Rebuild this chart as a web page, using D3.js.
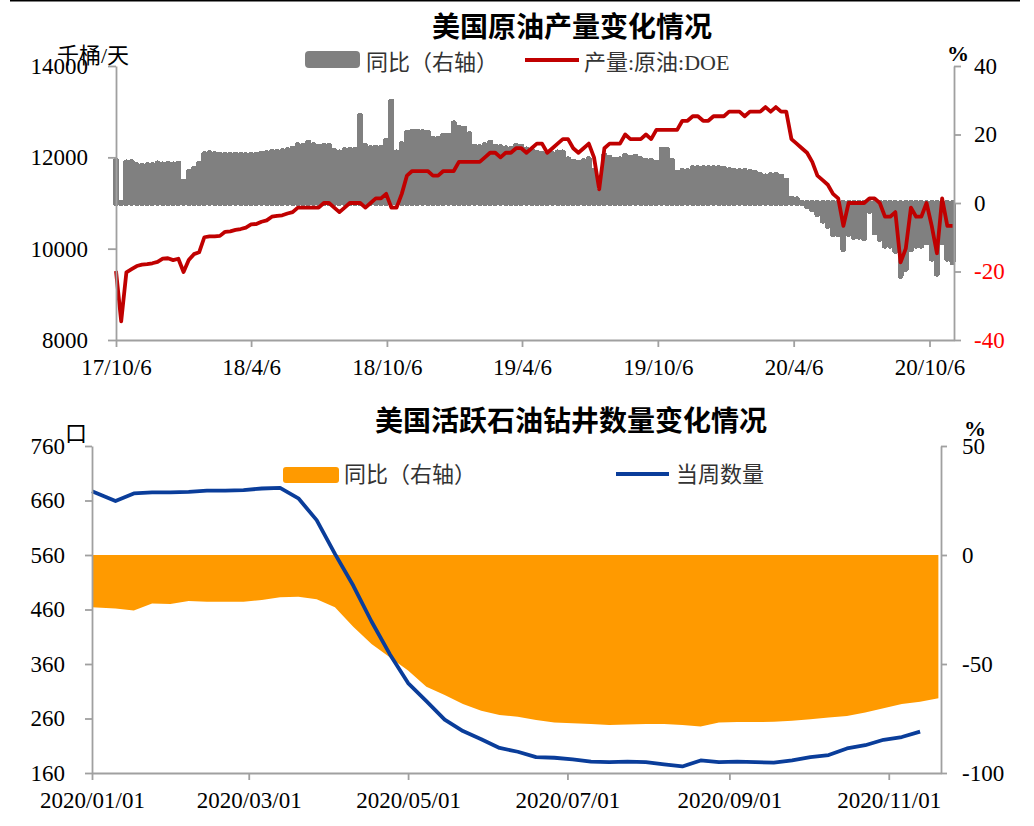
<!DOCTYPE html>
<html><head><meta charset="utf-8">
<script src="https://cdn.jsdelivr.net/npm/d3@7"></script>
<style>
body{margin:0;background:#fff}
svg text{font-family:"Liberation Serif","Noto Sans CJK SC",serif}
</style>
</head><body>
<svg id="c" width="1034" height="826"></svg>
<script>
// ---------- DATA : top chart (weekly, from 2017-10-06) ----------
const topStartDate = "2017-10-06";
const topEndDate = "2020-11-08";
const prodValues = [
 9510, 8410, 9480, 9550, 9620, 9650, 9660, 9680, 9710, 9780,
 9790, 9750, 9780, 9490, 9750, 9880, 9920, 10250, 10270, 10270,
 10280, 10370, 10380, 10410, 10430, 10460, 10530, 10540, 10590, 10620,
 10700, 10720, 10730, 10770, 10800, 10900, 10900, 10900, 10900, 10900,
 11000, 11000, 10900, 10800, 10900, 11000, 11000, 11000, 10900, 11000,
 11100, 11100, 11200, 10900, 10900, 11200, 11600, 11700, 11700, 11700,
 11700, 11600, 11600, 11700, 11700, 11700, 11900, 11900, 11900, 11900,
 11900, 12000, 12100, 12100, 12000, 12100, 12100, 12200, 12200, 12100,
 12200, 12300, 12300, 12100, 12200, 12300, 12400, 12400, 12200, 12100,
 12200, 12300, 12000, 11300, 12200, 12300, 12300, 12300, 12500, 12400,
 12400, 12400, 12500, 12400, 12600, 12600, 12600, 12600, 12600, 12800,
 12800, 12900, 12900, 12800, 12800, 12900, 12900, 12900, 13000, 13000,
 13000, 12900, 13000, 13000, 13000, 13100, 13000, 13100, 13000, 13000,
 12400, 12300, 12200, 12100, 11900, 11600, 11500, 11400, 11200, 11100,
 10500, 11000, 11000, 11000, 11000, 11100, 11100, 11000, 10700, 10700,
 10800, 9700, 10000, 10900, 10700, 10700, 11000, 10500, 9900, 11100,
 10500, 10500
];
const prodYoY = [
 13.0, -0.5, 12.6, 12.7, 11.8, 11.7, 11.8, 11.8, 12.3, 12.0,
 12.2, 12.0, 12.2, 6.9, 9.8, 10.8, 12.1, 15.0, 15.3, 15.0,
 14.9, 14.8, 14.8, 14.9, 14.8, 14.7, 14.8, 14.9, 15.1, 15.3,
 15.7, 15.7, 15.9, 16.2, 16.6, 17.6, 17.4, 18.4, 17.6, 17.2,
 17.4, 17.4, 16.0, 15.5, 16.2, 16.2, 16.2, 26.2, 17.4, 16.7,
 16.9, 16.9, 18.9, 30.3, 15.5, 17.9, 21.3, 21.6, 21.6, 21.4,
 21.3, 19.4, 19.4, 20.4, 20.4, 24.0, 22.7, 22.5, 20.8, 17.2,
 17.0, 17.6, 18.4, 17.2, 17.0, 16.7, 16.6, 17.4, 17.2, 16.4,
 16.0, 15.5, 15.0, 14.5, 15.0, 15.5, 15.5, 13.5, 12.8, 12.5,
 13.0, 13.5, 10.1, 4.0, 14.6, 14.0, 13.3, 13.5, 14.5, 14.0,
 14.3, 13.5, 13.0, 13.0, 12.5, 16.3, 16.3, 13.0, 9.6, 10.1,
 10.1, 10.9, 10.9, 10.9, 10.9, 10.9, 10.9, 10.8, 10.3, 10.1,
 10.1, 10.1, 9.8, 9.5, 8.9, 8.5, 8.9, 8.9, 8.5, 7.3,
 2.0, 1.8, 0.2, -1.6, -2.5, -4.0, -5.9, -7.4, -9.8, -9.8,
 -14.2, -9.8, -10.6, -10.6, -11.0, -3.0, -9.3, -11.2, -13.2, -13.2,
 -14.7, -22.0, -20.0, -14.2, -13.2, -13.2, -12.2, -17.0, -21.4, -12.2,
 -17.0, -18.0
];
const topXTicks = ["2017-10-06","2018-04-06","2018-10-06","2019-04-06","2019-10-06","2020-04-06","2020-10-06"];
const topXTickLabels = ["17/10/6","18/4/6","18/10/6","19/4/6","19/10/6","20/4/6","20/10/6"];
const topLeftTicks = [8000, 10000, 12000, 14000];
const topRightTicks = [-40, -20, 0, 20, 40];

// ---------- DATA : bottom chart (weekly 2020) ----------
const rigDates = ["2020-01-01","2020-01-10","2020-01-17","2020-01-24","2020-01-31","2020-02-07","2020-02-14","2020-02-21","2020-02-28",
 "2020-03-06","2020-03-13","2020-03-20","2020-03-27","2020-04-03","2020-04-10","2020-04-17","2020-04-24","2020-05-01","2020-05-08",
 "2020-05-15","2020-05-22","2020-05-29","2020-06-05","2020-06-12","2020-06-19","2020-06-26","2020-07-03","2020-07-10","2020-07-17",
 "2020-07-24","2020-07-31","2020-08-07","2020-08-14","2020-08-21","2020-08-28","2020-09-04","2020-09-11","2020-09-18","2020-09-25",
 "2020-10-02","2020-10-09","2020-10-16","2020-10-23","2020-10-30","2020-11-06","2020-11-13","2020-11-20"];
const rigCount = [677, 659, 673, 675, 675, 676, 678, 678, 679, 682,
 683, 664, 624, 562, 504, 438, 378, 325, 292, 258,
 237, 222, 206, 199, 189, 188, 185, 181, 180, 181,
 180, 176, 172, 183, 180, 181, 180, 179, 183, 189,
 193, 205, 211, 221, 226, 236];
const rigYoY = [-24.0, -24.5, -25.5, -22.2, -22.5, -21.1, -21.5, -21.5, -21.4, -20.6,
 -19.4, -19.1, -20.3, -24.0, -32.9, -40.8, -46.9, -53.0, -60.4, -64.2,
 -68.3, -71.4, -73.4, -74.2, -75.7, -76.8, -77.2, -77.5, -78.0, -77.8,
 -77.5, -77.5, -78.0, -78.7, -76.8, -76.6, -76.6, -76.5, -76.0, -75.4,
 -74.5, -73.9, -72.3, -70.3, -68.3, -67.3, -65.7];
const botXStart = "2020-01-01", botXEnd = "2020-11-21";
const botXTicks = ["2020-01-01","2020-03-01","2020-05-01","2020-07-01","2020-09-01","2020-11-01"];
const botXTickLabels = ["2020/01/01","2020/03/01","2020/05/01","2020/07/01","2020/09/01","2020/11/01"];
const botLeftTicks = [160, 260, 360, 460, 560, 660, 760];
const botRightTicks = [-100, -50, 0, 50];

// ---------- DRAW ----------
const parse = d3.timeParse("%Y-%m-%d");
const svg = d3.select("#c");
const AX = "#a0a0a0", FS = 23;
const SERIF = "Liberation Serif, Times New Roman, serif";
const CJK = "Noto Sans CJK SC, sans-serif";

svg.append("line").attr("x1",10).attr("x2",1020).attr("y1",0.8).attr("y2",0.8)
  .attr("stroke","#000").attr("stroke-width",1.6);

function styleAxis(g){
  g.attr("font-family", SERIF).attr("font-size", FS);
  g.selectAll("path.domain").attr("stroke",AX).attr("stroke-width",1.8);
  g.selectAll(".tick line").attr("stroke",AX).attr("stroke-width",1.8);
  g.selectAll(".tick text").attr("font-size",FS).attr("fill","#000")
    .attr("font-family", SERIF).style("font-family", SERIF);
}

// ===== TOP CHART =====
const t0 = parse(topStartDate);
const topDates = prodValues.map((_, i) => d3.timeDay.offset(t0, 7 * i));
const xT = d3.scaleTime().domain([t0, parse(topEndDate)]).range([116, 954]);
const yTL = d3.scaleLinear().domain([8000, 14000]).range([340, 66]);
const yTR = d3.scaleLinear().domain([-40, 40]).range([340, 66]);
const step = xT(topDates[1]) - xT(topDates[0]);
const r = step / 2;

const gTop = svg.append("g");
gTop.append("g").attr("shape-rendering","crispEdges")
  .selectAll("line").data(prodYoY).join("line")
  .attr("x1", (d, i) => xT(topDates[i])).attr("x2", (d, i) => xT(topDates[i]))
  .attr("y1", yTR(0))
  .attr("y2", d => { const y = yTR(d), y0 = yTR(0), h = y - y0;
      return Math.abs(h) > r ? y - Math.sign(h) * r : y0; })
  .attr("stroke", "#808080").attr("stroke-width", step + 0.9).attr("stroke-linecap", "round");

gTop.append("path").datum(prodValues)
  .attr("fill","none").attr("stroke","#c00000").attr("stroke-width",3.8)
  .attr("stroke-linejoin","round")
  .attr("d", d3.line().x((d, i) => xT(topDates[i])).y(d => yTL(d)));

const axTL = gTop.append("g").attr("transform","translate(116,0)")
  .call(d3.axisLeft(yTL).tickValues(topLeftTicks).tickSize(8).tickSizeOuter(0).tickPadding(20).tickFormat(d3.format("d")));
styleAxis(axTL);
const axTR = gTop.append("g").attr("transform","translate(954,0)")
  .call(d3.axisRight(yTR).tickValues(topRightTicks).tickSize(7).tickSizeOuter(0).tickPadding(13).tickFormat(d => String(d)));
styleAxis(axTR);
axTR.selectAll(".tick text").attr("fill", d => d < 0 ? "#ff0000" : "#000");
const axTB = gTop.append("g").attr("transform","translate(0,340)")
  .call(d3.axisBottom(xT).tickValues(topXTicks.map(parse)).tickSize(7).tickSizeOuter(0).tickPadding(12)
    .tickFormat((d, i) => topXTickLabels[i]));
styleAxis(axTB);

gTop.append("text").attr("x",572).attr("y",37).attr("text-anchor","middle")
  .attr("font-size",28).attr("font-weight",700).style("font-family",CJK).text("美国原油产量变化情况");
gTop.append("text").attr("x",57).attr("y",63).attr("font-size",22).attr("fill","#000").text("千桶/天");
gTop.append("text").attr("x",947).attr("y",61).attr("font-size",22).attr("font-weight",700).text("%");
gTop.append("rect").attr("x",305).attr("y",51).attr("width",55).attr("height",17).attr("rx",4).attr("fill","#808080");
gTop.append("text").attr("x",366).attr("y",70).attr("font-size",22).attr("fill","#333").text("同比（右轴）");
gTop.append("line").attr("x1",525).attr("x2",579).attr("y1",60).attr("y2",60)
  .attr("stroke","#c00000").attr("stroke-width",4);
gTop.append("text").attr("x",584).attr("y",70).attr("font-size",22).attr("fill","#333").text("产量:原油:DOE");

// ===== BOTTOM CHART =====
const bDates = rigDates.map(parse);
const xB = d3.scaleTime().domain([parse(botXStart), parse(botXEnd)]).range([92, 941]).clamp(true);
const yBL = d3.scaleLinear().domain([160, 760]).range([773, 446]);
const yBR = d3.scaleLinear().domain([-100, 50]).range([773, 446]);
const gBot = svg.append("g");

gBot.append("path").datum(rigYoY)
  .attr("fill","#ff9a00").attr("stroke","none")
  .attr("d", d3.area().x((d, i) => xB(bDates[i])).y0(yBR(0)).y1(d => yBR(d)));

gBot.append("path").datum(rigCount)
  .attr("fill","none").attr("stroke","#0a3d9a").attr("stroke-width",3.8)
  .attr("stroke-linejoin","round")
  .attr("d", d3.line().x((d, i) => xB(bDates[i])).y(d => yBL(d)));

const axBL = gBot.append("g").attr("transform","translate(92,0)")
  .call(d3.axisLeft(yBL).tickValues(botLeftTicks).tickSize(7).tickSizeOuter(0).tickPadding(20));
styleAxis(axBL);
const axBR = gBot.append("g").attr("transform","translate(941,0)")
  .call(d3.axisRight(yBR).tickValues(botRightTicks).tickSize(6).tickSizeOuter(0).tickPadding(15).tickFormat(d => String(d)));
styleAxis(axBR);
const axBB = gBot.append("g").attr("transform","translate(0,773)")
  .call(d3.axisBottom(xB).tickValues(botXTicks.map(parse)).tickSize(7).tickSizeOuter(0).tickPadding(12)
    .tickFormat((d, i) => botXTickLabels[i]));
styleAxis(axBB);

gBot.append("text").attr("x",571).attr("y",431).attr("text-anchor","middle")
  .attr("font-size",28).attr("font-weight",700).style("font-family",CJK).text("美国活跃石油钻井数量变化情况");
gBot.append("text").attr("x",65).attr("y",441).attr("font-size",22).style("font-family",CJK).text("口");
gBot.append("text").attr("x",964).attr("y",436).attr("font-size",22).attr("font-weight",700).text("%");
gBot.append("rect").attr("x",283).attr("y",467).attr("width",56).attr("height",16).attr("rx",3).attr("fill","#ff9a00");
gBot.append("text").attr("x",344).attr("y",482).attr("font-size",22).attr("fill","#333").text("同比（右轴）");
gBot.append("line").attr("x1",616).attr("x2",669).attr("y1",474).attr("y2",474)
  .attr("stroke","#0a3d9a").attr("stroke-width",4);
gBot.append("text").attr("x",676).attr("y",482).attr("font-size",22).attr("fill","#333").text("当周数量");
</script>
</body></html>
